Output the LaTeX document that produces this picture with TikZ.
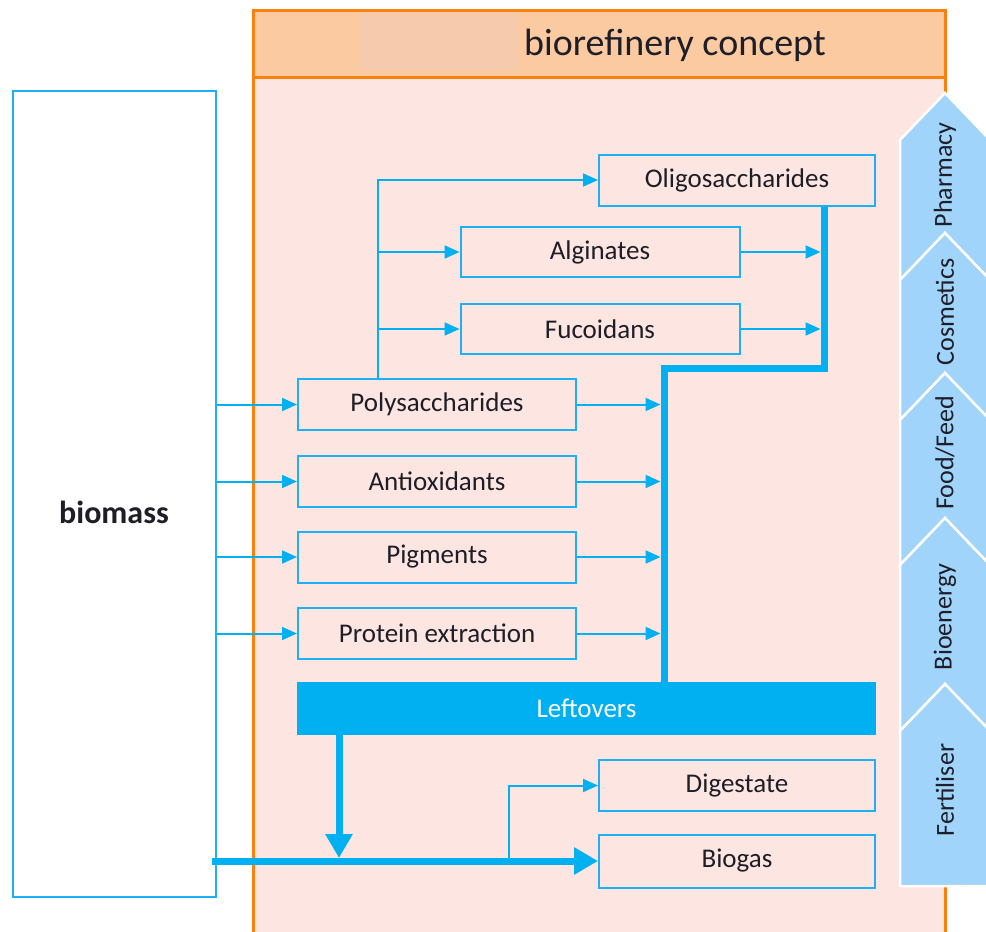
\documentclass[tikz,border=0pt]{standalone}
\usepackage{fontspec}
\setmainfont{Carlito}
\usetikzlibrary{arrows.meta}
\definecolor{orangeline}{RGB}{252,128,14}
\definecolor{headerfill}{RGB}{251,202,160}
\definecolor{patchfill}{RGB}{246,202,172}
\definecolor{bodyfill}{RGB}{253,230,225}
\definecolor{cblue}{RGB}{0,176,240}
\definecolor{boxline}{RGB}{30,176,245}
\definecolor{chevfill}{RGB}{160,212,250}
\definecolor{txt}{RGB}{30,30,40}
\begin{document}
\begin{tikzpicture}[x=1pt,y=-1pt,
  pbox/.style={draw=boxline, line width=2pt, inner sep=0pt, minimum height=51pt,
    text=txt, font=\fontsize{27}{32}\selectfont},
  arr/.style={draw=cblue, line width=2pt, -{Triangle[length=15pt,width=13pt]}},
  thk/.style={draw=cblue, line width=7pt, line join=miter},
  thkarr/.style={thk, -{Triangle[length=24pt,width=26pt]}},
  chev/.style={fill=chevfill, draw=white, line width=2.5pt, line join=miter},
  chevlabel/.style={rotate=90, text=txt, font=\fontsize{26}{30}\selectfont, inner sep=0pt}
]
\useasboundingbox (0,0) rectangle (986,932);
\clip (0,0) rectangle (986,932);

% body of the concept frame
\fill[bodyfill] (253,77) rectangle (945,940);
\draw[orangeline, line width=3pt] (253,77) -- (253,940) (945,77) -- (945,940);

% header
\node[draw=orangeline, fill=headerfill, line width=3pt, minimum width=692pt,
      minimum height=67pt, inner sep=0pt] (hdr) at (599,43.5) {};
\fill[patchfill] (360,13) rectangle (518,70);
\node[text=txt, font=\fontsize{38}{44}\selectfont, inner sep=0pt] (ttl) at (675,45) {biorefinery concept};

% chevrons
\draw[chev] (900,140) -- (945,93) -- (990,140) -- (990,280) -- (945,233) -- (900,280) -- cycle;
\draw[chev] (900,280) -- (945,233) -- (990,280) -- (990,420) -- (945,373) -- (900,420) -- cycle;
\draw[chev] (900,420) -- (945,373) -- (990,420) -- (990,565) -- (945,518) -- (900,565) -- cycle;
\draw[chev] (900,565) -- (945,518) -- (990,565) -- (990,731) -- (945,684) -- (900,731) -- cycle;
\draw[chev] (900,731) -- (945,684) -- (990,731) -- (990,886) -- (900,886) -- cycle;
\node[chevlabel] (ph) at (945,175) {Pharmacy};
\node[chevlabel] (co) at (945,312) {Cosmetics};
\node[chevlabel] (ff) at (945,453) {Food/Feed};
\node[chevlabel] (be) at (945,617) {Bioenergy};
\node[chevlabel] (fe) at (945,790) {Fertiliser};

% biomass
\node[draw=boxline, line width=2pt, minimum width=203pt, minimum height=806pt, inner sep=0pt] (biomass) at (114.5,494) {};
\node[text=txt, font=\fontsize{32}{36}\selectfont\bfseries, inner sep=0pt] (bml) at (114,512) {biomass};

% boxes
\node[pbox, minimum width=276pt] (oligo) at (737,180) {Oligosaccharides};
\node[pbox, minimum width=279pt, minimum height=50pt] (alg) at (600,252) {Alginates};
\node[pbox, minimum width=279pt, minimum height=50pt] (fuc) at (600,329) {Fucoidans};
\node[pbox, minimum width=278pt] (poly) at (437,404.5) {Polysaccharides};
\node[pbox, minimum width=278pt] (anti) at (437,481.5) {Antioxidants};
\node[pbox, minimum width=278pt] (pig) at (437,557) {Pigments};
\node[pbox, minimum width=278pt] (prot) at (437,633.5) {Protein extraction};
\node[fill=cblue, inner sep=0pt, minimum width=579pt, minimum height=53pt, text=white,
      font=\fontsize{27}{32}\selectfont] (left) at (586.5,708.5) {Leftovers};
\node[pbox, minimum width=276pt] (dig) at (737,785.5) {Digestate};
\node[pbox, minimum width=276pt, minimum height=53pt] (bio) at (737,861) {Biogas};

% helper coordinates
\coordinate (br) at (378,180);
\coordinate (rx) at (820.5,0);
\coordinate (lx) at (660.5,0);
\coordinate (ta) at (824,368);
\coordinate (tb) at (664,368);
\coordinate (ld) at (339,858);
\coordinate (hs) at (212,861);
\coordinate (db) at (509,861);

% polysaccharide branch
\draw[arr] (br |- poly.north) |- (oligo.west);
\draw[arr] (br |- alg.west) -- (alg.west);
\draw[arr] (br |- fuc.west) -- (fuc.west);

% biomass to extractions
\draw[arr] (biomass.east |- poly.west) -- (poly.west);
\draw[arr] (biomass.east |- anti.west) -- (anti.west);
\draw[arr] (biomass.east |- pig.west) -- (pig.west);
\draw[arr] (biomass.east |- prot.west) -- (prot.west);

% to collector lines
\draw[arr] (alg.east) -- (alg.east -| rx);
\draw[arr] (fuc.east) -- (fuc.east -| rx);
\draw[arr] (poly.east) -- (poly.east -| lx);
\draw[arr] (anti.east) -- (anti.east -| lx);
\draw[arr] (pig.east) -- (pig.east -| lx);
\draw[arr] (prot.east) -- (prot.east -| lx);

% thick collector
\draw[thk] (oligo.south -| ta) -- (ta) -- (tb) -- (tb |- left.north);

% leftovers to biogas
\draw[thkarr] (left.south -| ld) -- (ld);
\draw[thkarr] (hs) -- (bio.west);
\draw[arr] (db) |- (dig.west);
\end{tikzpicture}
\end{document}
